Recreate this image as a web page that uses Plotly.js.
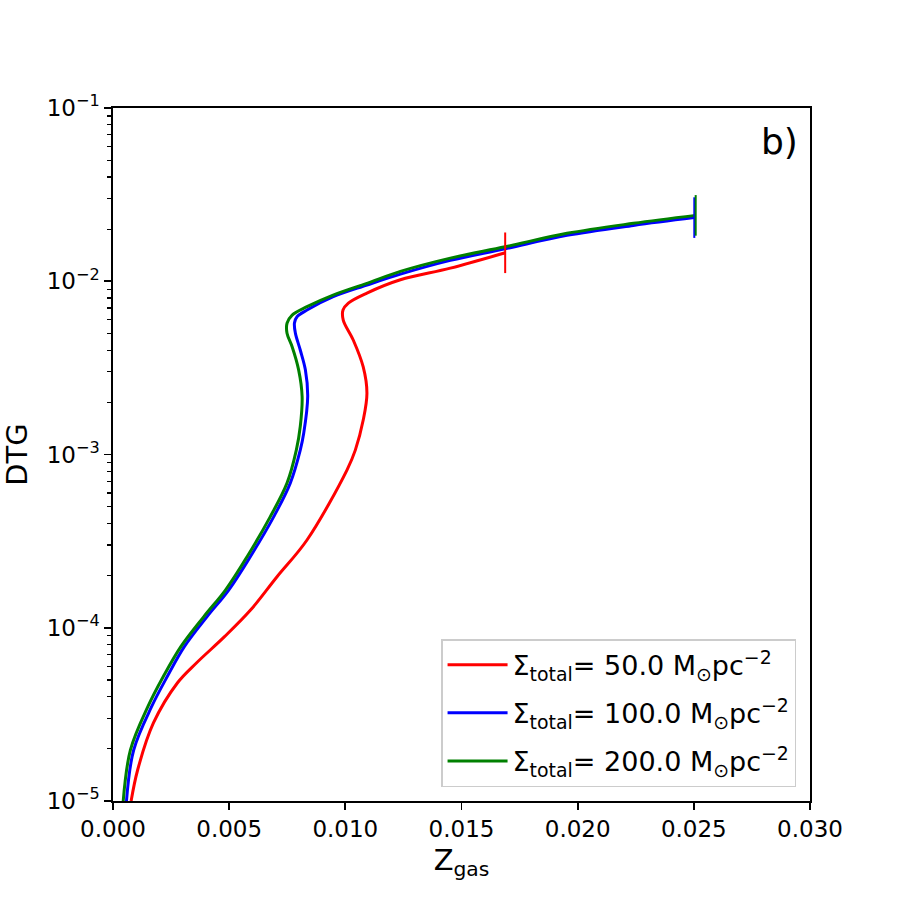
<!DOCTYPE html>
<html>
<head>
<meta charset="utf-8">
<script src="https://cdn.plot.ly/plotly-3.0.1.min.js"></script>
<style>html,body{margin:0;padding:0;background:#fff;}#chart{width:900px;height:900px;}</style>
</head>
<body>
<div id="chart"></div>
<script>
// Sigma_total = 50 Msun/pc^2
const zRed = [0.00078,0.00106,0.00174,0.00277,0.00359,0.00480,0.00591,0.00706,0.00835,0.01007,0.01043,0.01077,0.01093,0.01077,0.01034,0.00991,0.00990,0.01013,0.01093,0.01237,0.01452,0.01688];
const dtgRed = [1.0e-5,1.51e-5,2.82e-5,4.80e-5,6.26e-5,8.88e-5,1.26e-4,1.97e-4,3.21e-4,8.13e-4,1.06e-3,1.58e-3,2.26e-3,3.20e-3,4.58e-3,5.97e-3,6.82e-3,7.48e-3,8.55e-3,1.02e-2,1.19e-2,1.46e-2];
// Sigma_total = 100 Msun/pc^2
const zBlue = [0.00058,0.00089,0.00166,0.00233,0.00307,0.00405,0.00498,0.00591,0.00692,0.00763,0.00806,0.00821,0.00838,0.00828,0.00806,0.00785,0.00781,0.00792,0.00835,0.00948,0.01093,0.01237,0.01452,0.01688,0.01954,0.02240,0.02502];
const dtgBlue = [1.0e-5,1.97e-5,3.50e-5,5.21e-5,7.78e-5,1.16e-4,1.65e-4,2.57e-4,4.38e-4,6.84e-4,1.06e-3,1.33e-3,2.16e-3,3.08e-3,4.01e-3,5.02e-3,5.74e-3,6.24e-3,6.82e-3,8.14e-3,9.51e-3,1.10e-2,1.32e-2,1.54e-2,1.84e-2,2.10e-2,2.33e-2];
// Sigma_total = 200 Msun/pc^2
const zGreen = [0.00044,0.00075,0.00150,0.00216,0.00292,0.00391,0.00484,0.00577,0.00677,0.00749,0.00789,0.00806,0.00814,0.00799,0.00771,0.00749,0.00749,0.00771,0.00835,0.00950,0.01093,0.01237,0.01452,0.01688,0.01954,0.02240,0.02508];
const dtgGreen = [1.0e-5,1.97e-5,3.50e-5,5.21e-5,7.78e-5,1.16e-4,1.65e-4,2.57e-4,4.38e-4,6.84e-4,1.06e-3,1.45e-3,2.16e-3,3.08e-3,4.19e-3,5.01e-3,5.72e-3,6.38e-3,7.13e-3,8.34e-3,9.73e-3,1.14e-2,1.36e-2,1.58e-2,1.89e-2,2.16e-2,2.40e-2];

const seriesNames = [
  'Σ<sub>total</sub>= 50.0 M<sub>⊙</sub>pc<sup>−2</sup>',
  'Σ<sub>total</sub>= 100.0 M<sub>⊙</sub>pc<sup>−2</sup>',
  'Σ<sub>total</sub>= 200.0 M<sub>⊙</sub>pc<sup>−2</sup>'
];
const seriesColors = ['#ff0000', '#0000ff', '#008000'];

const yTickVals = [1e-5, 1e-4, 1e-3, 1e-2, 1e-1];
const yTickText = ['10<sup>−5</sup>', '10<sup>−4</sup>', '10<sup>−3</sup>', '10<sup>−2</sup>', '10<sup>−1</sup>'];
const xTickVals = [0, 0.005, 0.010, 0.015, 0.020, 0.025, 0.030];
const xTickText = ['0.000', '0.005', '0.010', '0.015', '0.020', '0.025', '0.030'];

const minorVals = [];
for (let e = -5; e < -1; e++) {
  for (let m = 2; m <= 9; m++) minorVals.push(m * Math.pow(10, e));
}

const xs = [zRed, zBlue, zGreen];
const ys = [dtgRed, dtgBlue, dtgGreen];
const traces = [];
for (let i = 0; i < 3; i++) {
  traces.push({
    x: xs[i], y: ys[i], type: 'scatter', mode: 'lines',
    name: seriesNames[i], legendgroup: 'g' + i,
    line: {color: seriesColors[i], width: 3, shape: 'spline', smoothing: 1}
  });
}
for (let i = 0; i < 3; i++) {
  const n = xs[i].length - 1;
  traces.push({
    x: [xs[i][n]], y: [ys[i][n]], type: 'scatter', mode: 'markers',
    showlegend: false, hoverinfo: 'skip', legendgroup: 'g' + i,
    marker: {symbol: 'line-ns', size: 29, color: seriesColors[i], line: {color: seriesColors[i], width: 2}}
  });
}

const font = 'DejaVu Sans, sans-serif';
const layout = {
  width: 900, height: 900,
  margin: {l: 113, r: 90, t: 108, b: 99, pad: 0},
  paper_bgcolor: '#ffffff', plot_bgcolor: '#ffffff',
  font: {family: font, size: 23, color: '#000'},
  showlegend: true,
  xaxis: {
    range: [0, 0.03], tickmode: 'array', tickvals: xTickVals, ticktext: xTickText,
    showgrid: false, zeroline: false, showline: true, mirror: true,
    linecolor: '#000', linewidth: 1.7, ticks: 'outside', ticklen: 7, tickwidth: 1.7, tickcolor: '#000',
    tickfont: {family: font, size: 23},
    title: {text: 'Z<sub>gas</sub>', font: {family: font, size: 29}, standoff: 8}
  },
  yaxis: {
    type: 'log', range: [-5, -1], tickmode: 'array', tickvals: yTickVals, ticktext: yTickText,
    showgrid: false, zeroline: false, showline: true, mirror: true,
    linecolor: '#000', linewidth: 1.7, ticks: 'outside', ticklen: 7, tickwidth: 1.7, tickcolor: '#000',
    tickfont: {family: font, size: 23},
    minor: {tickmode: 'array', tickvals: minorVals, ticks: 'outside', ticklen: 4, tickwidth: 1.2, tickcolor: '#000', showgrid: false},
    title: {text: 'DTG', font: {family: font, size: 29}, standoff: 12}
  },
  legend: {
    x: 0.98, y: 0.02, xanchor: 'right', yanchor: 'bottom',
    bgcolor: 'rgba(255,255,255,0.8)', bordercolor: '#cccccc', borderwidth: 1.5,
    font: {family: font, size: 27}, tracegroupgap: 10, itemwidth: 60
  },
  annotations: [{
    text: 'b)', xref: 'paper', yref: 'paper', x: 0.9857, y: 0.951,
    xanchor: 'right', yanchor: 'middle', showarrow: false,
    font: {family: font, size: 36, color: '#000'}
  }]
};

Plotly.newPlot('chart', traces, layout, {displayModeBar: false, staticPlot: true});
</script>
</body>
</html>
